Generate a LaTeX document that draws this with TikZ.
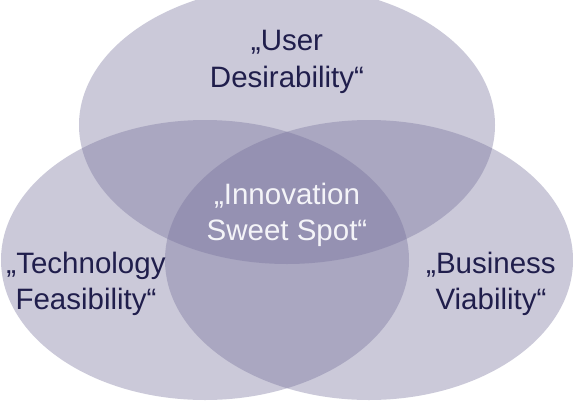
\documentclass[tikz,border=0pt]{standalone}
\usepackage{fontspec}
\setmainfont{Liberation Sans}
\definecolor{vennfill}{RGB}{114,109,153}
\definecolor{labeltext}{RGB}{32,30,76}
\definecolor{centertext}{RGB}{244,244,248}
\tikzset{
  venn/.style={fill=vennfill, fill opacity=0.37},
  lbl/.style={align=center, inner sep=0pt, text=labeltext,
    font=\fontsize{29.5}{36.5}\selectfont},
  clbl/.style={lbl, text=centertext},
}
\begin{document}
\begin{tikzpicture}[x=1pt,y=-1pt]
\useasboundingbox (0,0) rectangle (573,402);
\clip (0,0) rectangle (573,402);
\fill[white] (0,0) rectangle (573,402);
\fill[venn] (287,125) ellipse [x radius=208pt, y radius=139pt];
\fill[venn] (205,260) ellipse [x radius=204pt, y radius=140pt];
\fill[venn] (369,260) ellipse [x radius=204pt, y radius=140pt];
\node[lbl] (user) at (287,62) {„User\\Desirability“};
\node[clbl] (sweet) at (287,215) {„Innovation\\Sweet Spot“};
\node[lbl] (tech) at (86,284) {„Technology\\Feasibility“};
\node[lbl] (biz) at (491,284) {„Business\\Viability“};
\end{tikzpicture}
\end{document}
